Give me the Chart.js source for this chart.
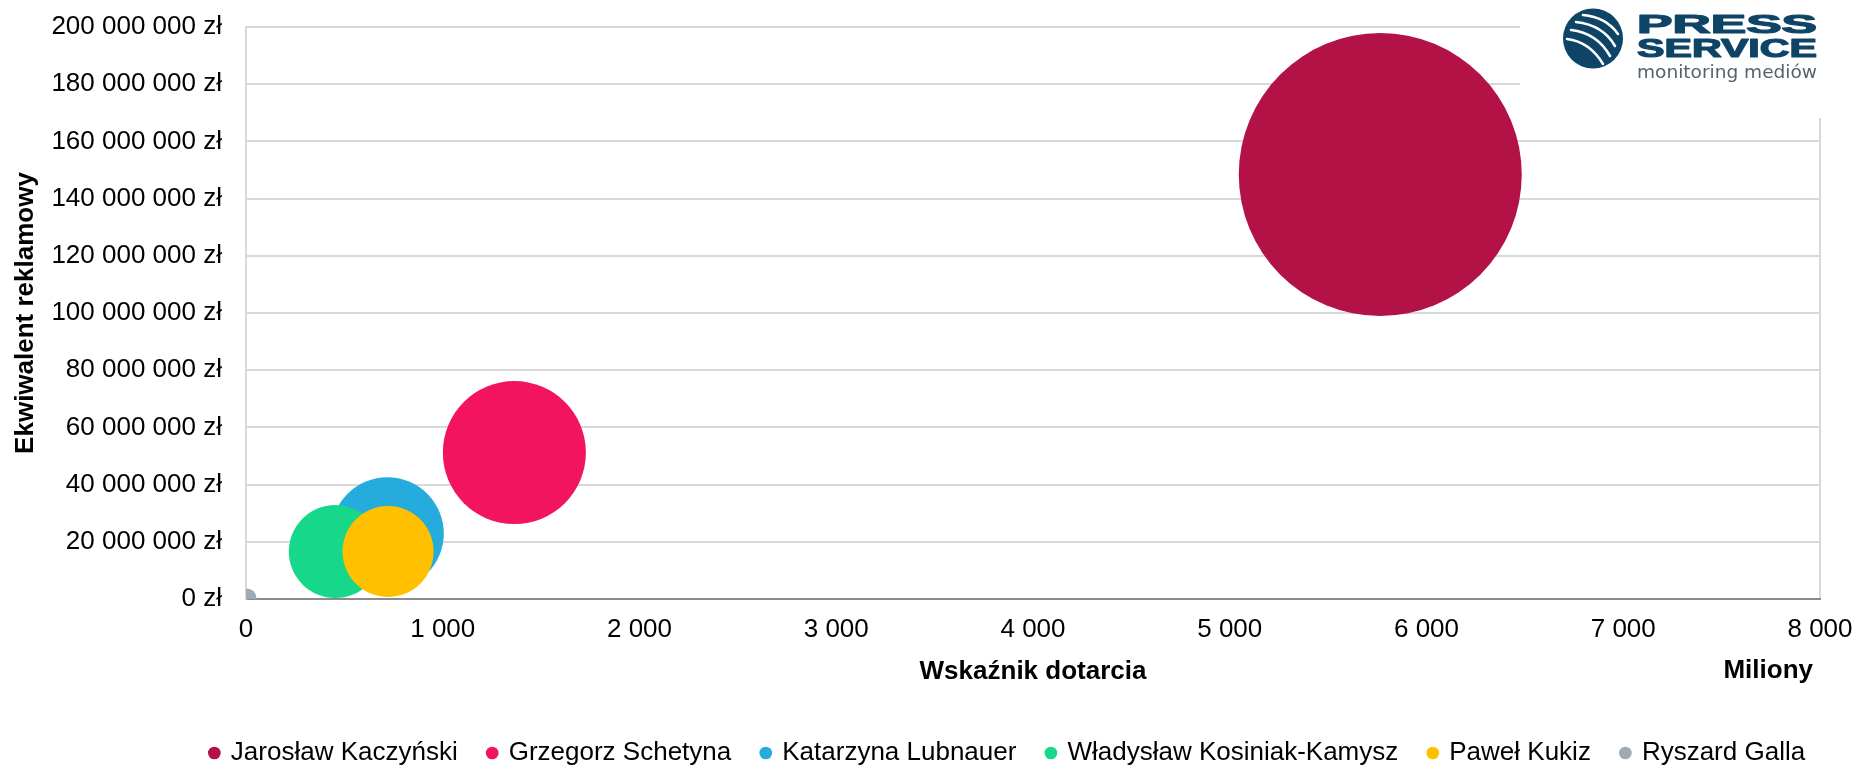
<!DOCTYPE html>
<html>
<head>
<meta charset="utf-8">
<script src="https://cdn.jsdelivr.net/npm/chart.js@4.4.0/dist/chart.umd.min.js"></script>
<style>
  html, body { margin: 0; padding: 0; background: #ffffff; }
  #wrap { width: 1858px; height: 766px; position: relative; }
</style>
</head>
<body>
<div id="wrap"><canvas id="chart"></canvas></div>
<script>
// ---- data ----
const candidates = [
  'Jarosław Kaczyński',
  'Grzegorz Schetyna',
  'Katarzyna Lubnauer',
  'Władysław Kosiniak-Kamysz',
  'Paweł Kukiz',
  'Ryszard Galla'
];
// Wskaźnik dotarcia, in millions
const reachMillions = [5765, 1364, 719, 454, 722, 3];
// Ekwiwalent reklamowy, zł
const adEquivalent = [148400000, 51200000, 22900000, 16600000, 16600000, 200000];
// bubble size values (area-proportional)
const bubbleSize = [20000, 5110, 3170, 2160, 2070, 100];
const seriesColors = ['#b31247', '#f31460', '#25acdc', '#16d78a', '#ffc000', '#9eadb5'];
const xTickValues = [0, 1000, 2000, 3000, 4000, 5000, 6000, 7000, 8000];
const yTickValues = [0, 20000000, 40000000, 60000000, 80000000, 100000000,
                     120000000, 140000000, 160000000, 180000000, 200000000];
const xAxisTitle = 'Wskaźnik dotarcia';
const yAxisTitle = 'Ekwiwalent reklamowy';
const displayUnitLabel = 'Miliony';

// ---- helpers ----
const MAX_BUBBLE_RADIUS = 141.5;
const maxSize = Math.max(...bubbleSize);
function radiusFor(size) { return MAX_BUBBLE_RADIUS * Math.sqrt(size / maxSize); }
function groupDigits(v) { return String(Math.round(v)).replace(/\B(?=(\d{3})+(?!\d))/g, ' '); }

const FONT = "'Liberation Sans', Arial, sans-serif";
Chart.defaults.font.family = FONT;
Chart.defaults.font.size = 26;
Chart.defaults.color = '#000000';

const datasets = candidates.map((name, i) => ({
  label: name,
  data: [{ x: reachMillions[i], y: adEquivalent[i], r: radiusFor(bubbleSize[i]) }],
  backgroundColor: seriesColors[i],
  borderColor: seriesColors[i],
  borderWidth: 0,
  hoverRadius: 0,
  order: -i,
  clip: 0
}));

const legendShift = {
  id: 'legendShift',
  afterLayout(chart) {
    const l = chart.legend;
    if (!l) return;
    const dx = 1008 - (l.left + l.right) / 2;
    l.left += dx; l.right += dx;
    l.top += 10; l.bottom += 10;
  }
};

const extras = {
  id: 'extras',
  afterDraw(chart) {
    const ctx = chart.ctx;
    ctx.save();
    // display unit label
    ctx.font = 'bold 26px ' + FONT;
    ctx.fillStyle = '#000';
    ctx.textAlign = 'right';
    ctx.textBaseline = 'middle';
    ctx.fillText(displayUnitLabel, 1813, 671);

    // logo box
    ctx.fillStyle = '#ffffff';
    ctx.fillRect(1520, 0, 338, 118);
    const blue = '#0e4466';
    ctx.fillStyle = blue;
    ctx.beginPath();
    ctx.arc(1593, 38.5, 30, 0, Math.PI * 2);
    ctx.fill();
    ctx.save();
    ctx.beginPath();
    ctx.arc(1593, 38.5, 29, 0, Math.PI * 2);
    ctx.clip();
    ctx.strokeStyle = '#ffffff';
    ctx.lineCap = 'round';
    ctx.lineWidth = 2.6;
    const stripes = [
      [1583, 15, 1606, 17, 1618, 34],
      [1576, 22, 1603, 25, 1615, 46],
      [1571, 30, 1597, 33, 1610, 56],
      [1567, 39, 1590, 42, 1603, 64]
    ];
    stripes.forEach(s => {
      ctx.beginPath();
      ctx.moveTo(s[0], s[1]);
      ctx.quadraticCurveTo(s[2], s[3], s[4], s[5]);
      ctx.stroke();
    });
    ctx.restore();

    function stretched(text, font, color, x, baseline, width, stroke) {
      ctx.font = font;
      ctx.fillStyle = color;
      ctx.textAlign = 'left';
      ctx.textBaseline = 'alphabetic';
      const w = ctx.measureText(text).width;
      ctx.save();
      ctx.translate(x, baseline);
      ctx.scale(width / w, 1);
      ctx.fillText(text, 0, 0);
      if (stroke) {
        ctx.strokeStyle = color;
        ctx.lineWidth = stroke;
        ctx.lineJoin = 'round';
        ctx.strokeText(text, 0, 0);
      }
      ctx.restore();
    }
    stretched('PRESS', 'bold 25px ' + FONT, blue, 1637, 33, 180, 1.2);
    stretched('SERVICE', 'bold 25px ' + FONT, blue, 1637, 57, 180, 1.2);
    stretched('monitoring mediów', '18px "DejaVu Sans", sans-serif', '#56626b', 1637, 78, 180);
    ctx.restore();
  }
};

new Chart(document.getElementById('chart'), {
  type: 'bubble',
  data: { datasets },
  plugins: [legendShift, extras],
  options: {
    responsive: true,
    maintainAspectRatio: false,
    animation: false,
    layout: { autoPadding: false, padding: { left: 0, right: 38, top: 27, bottom: 0 } },
    plugins: {
      tooltip: { enabled: false },
      legend: {
        position: 'bottom',
        align: 'center',
        labels: {
          usePointStyle: true,
          pointStyle: 'circle',
          boxWidth: 7,
          boxHeight: 9,
          padding: 31,
          color: '#000',
          font: { size: 26, family: FONT },
          sort: (a, b) => a.datasetIndex - b.datasetIndex
        }
      }
    },
    scales: {
      x: {
        type: 'linear',
        min: 0,
        max: 8000,
        z: 1,
        afterBuildTicks: s => { s.ticks = xTickValues.map(v => ({ value: v })); },
        afterFit: s => { s.height = 100; s.paddingLeft = 0; s.paddingRight = 0; },
        ticks: {
          padding: 15,
          maxRotation: 0,
          minRotation: 0,
          autoSkip: false,
          font: { size: 26 },
          callback: v => groupDigits(v)
        },
        grid: {
          drawTicks: false,
          lineWidth: 2,
          color: c => (c.tick && c.tick.value === 8000) ? '#d9d9d9' : 'rgba(0,0,0,0)'
        },
        border: { display: true, color: '#8c8c8c', width: 2 },
        title: {
          display: true,
          text: xAxisTitle,
          font: { size: 26, weight: 'bold' },
          padding: { top: 0, bottom: 12 }
        }
      },
      y: {
        type: 'linear',
        min: 0,
        max: 200000000,
        afterBuildTicks: s => { s.ticks = yTickValues.map(v => ({ value: v })); },
        afterFit: s => { s.width = 246; s.paddingTop = 0; s.paddingBottom = 0; },
        ticks: {
          padding: 24,
          font: { size: 26 },
          callback: v => groupDigits(v) + ' zł'
        },
        grid: { drawTicks: false, lineWidth: 2, color: '#d9d9d9' },
        border: { display: true, color: '#d9d9d9', width: 2 },
        title: {
          display: true,
          text: yAxisTitle,
          font: { size: 26, weight: 'bold' },
          padding: { top: 10, bottom: 0 }
        }
      }
    }
  }
});
</script>
</body>
</html>
